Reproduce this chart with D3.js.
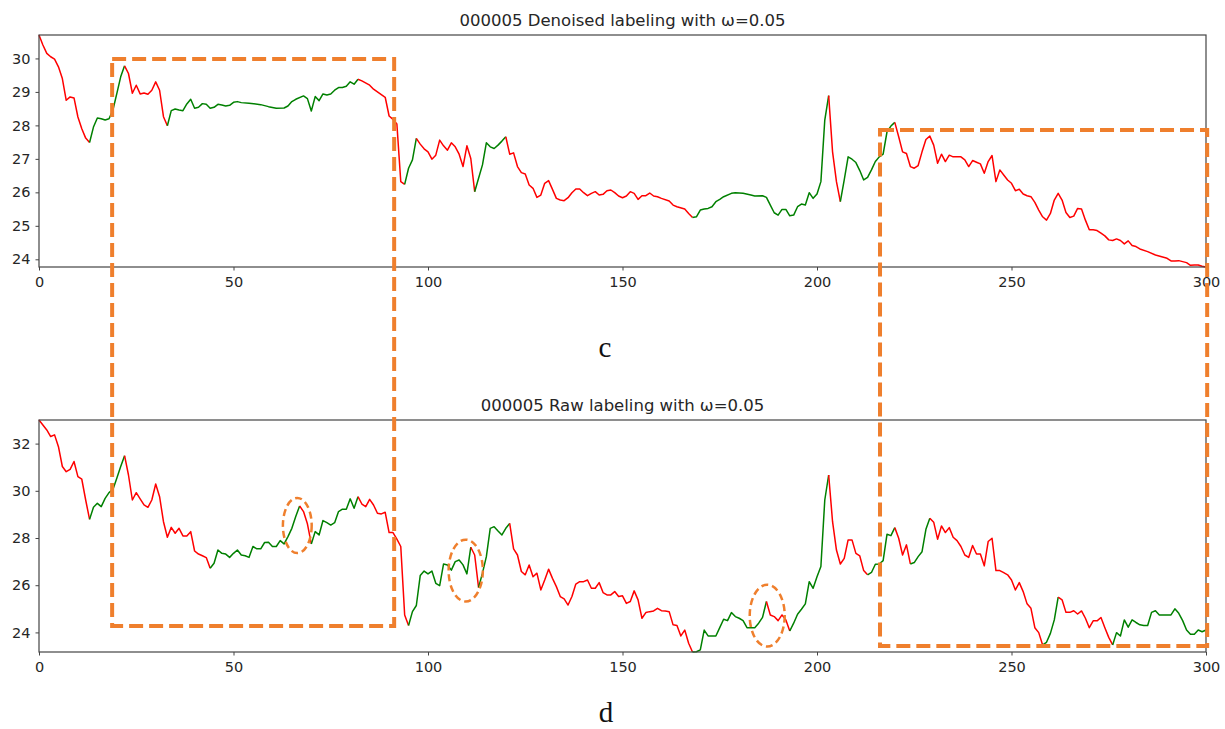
<!DOCTYPE html>
<html>
<head>
<meta charset="utf-8">
<script src="https://cdn.jsdelivr.net/npm/d3@7"></script>
<style>
  html, body { margin: 0; padding: 0; background: #fff; }
  svg { display: block; }
  .tick text { font-family: "DejaVu Sans", sans-serif; font-size: 14.5px; fill: #262626; }
  .tick line { stroke: #444; }
  .title { font-family: "DejaVu Sans", sans-serif; font-size: 16.5px; fill: #262626; }
  .panel-label { font-family: "Liberation Serif", "Times New Roman", serif; font-size: 29px; fill: #111; }
</style>
</head>
<body>
<svg id="chart" width="1225" height="729"></svg>
<script>
// ── Data ──────────────────────────────────────────────────────────────────
const xTicks = [0, 50, 100, 150, 200, 250, 300];
const denoisedTicks = [24, 25, 26, 27, 28, 29, 30];
const rawTicks = [24, 26, 28, 30, 32];

// [day, price]
const denoised = [
  [0,30.70],[1,30.40],[2,30.15],[3,30.05],[4,29.98],[5,29.75],[6,29.40],[7,28.75],[8,28.85],[9,28.82],
  [10,28.25],[11,27.90],[12,27.62],[13,27.49],[14,27.95],[15,28.22],[16,28.20],[17,28.16],[18,28.20],[19,28.46],
  [20,28.95],[21,29.45],[22,29.78],[23,29.55],[24,28.96],[25,29.20],[26,28.94],[27,28.97],[28,28.93],[29,29.05],
  [30,29.30],[31,29.05],[32,28.26],[33,27.99],[34,28.44],[35,28.49],[36,28.46],[37,28.44],[38,28.64],[39,28.78],
  [40,28.51],[41,28.54],[42,28.65],[43,28.63],[44,28.51],[45,28.54],[46,28.63],[47,28.61],[48,28.58],[49,28.60],
  [50,28.69],[51,28.71],[52,28.68],[54,28.66],[57,28.62],[59,28.56],[61,28.51],[63,28.52],[64,28.58],[65,28.71],
  [66,28.78],[68,28.88],[69,28.80],[70,28.43],[71,28.86],[72,28.74],[73,28.94],[74,28.91],[75,28.94],[76,29.05],
  [77,29.13],[78,29.13],[79,29.17],[80,29.30],[81,29.23],[82,29.38],[83,29.33],[85,29.20],[86,29.08],[89,28.84],
  [90,28.28],[91,28.18],[92,28.04],[93,26.32],[94,26.24],[95,26.72],[96,26.97],[97,27.61],[98,27.44],[99,27.30],
  [100,27.21],[101,26.99],[102,27.11],[103,27.56],[104,27.39],[105,27.26],[106,27.48],[107,27.36],[108,27.14],[109,26.77],
  [110,27.39],[111,27.01],[112,26.02],[113,26.42],[114,26.82],[115,27.48],[116,27.36],[117,27.31],[118,27.41],[119,27.53],
  [120,27.66],[121,27.14],[122,27.18],[123,26.77],[124,26.59],[125,26.55],[126,26.22],[127,26.12],[128,25.85],[129,25.92],
  [130,26.27],[131,26.35],[132,26.09],[133,25.82],[134,25.77],[135,25.75],[136,25.84],[137,25.99],[138,26.10],[139,26.10],
  [140,25.99],[141,25.90],[142,25.97],[143,26.02],[144,25.92],[145,25.94],[146,26.05],[147,26.07],[148,25.99],[149,25.89],
  [150,25.84],[151,25.89],[152,26.02],[153,25.97],[154,25.79],[155,25.90],[156,25.90],[157,25.98],[158,25.89],[159,25.87],
  [160,25.82],[162,25.74],[163,25.62],[164,25.57],[166,25.50],[167,25.37],[168,25.25],[169,25.27],[170,25.47],[171,25.50],
  [172,25.52],[173,25.57],[174,25.72],[175,25.79],[176,25.87],[178,25.97],[179,25.99],[181,25.97],[183,25.92],[184,25.89],
  [186,25.90],[187,25.85],[188,25.62],[189,25.39],[190,25.32],[191,25.49],[192,25.49],[193,25.30],[194,25.32],[195,25.57],
  [196,25.65],[197,25.62],[198,25.99],[199,25.82],[200,25.95],[201,26.32],[202,28.16],[203,28.89],[204,27.21],[205,26.32],
  [206,25.72],[207,26.37],[208,27.06],[209,26.99],[210,26.89],[211,26.65],[212,26.37],[213,26.45],[214,26.67],[215,26.92],
  [216,27.06],[217,27.14],[218,27.81],[219,27.98],[220,28.09],[221,27.66],[222,27.21],[223,27.16],[224,26.77],[225,26.72],
  [226,26.80],[227,27.21],[228,27.58],[229,27.68],[230,27.41],[231,26.87],[232,27.14],[233,26.92],[234,27.11],[235,27.06],
  [236,27.06],[237,27.06],[238,26.97],[239,26.77],[240,26.95],[241,26.90],[242,26.85],[243,26.57],[244,26.92],[245,27.10],
  [246,26.32],[247,26.67],[248,26.52],[249,26.37],[250,26.27],[251,26.05],[252,26.09],[253,25.95],[254,25.90],[255,25.87],
  [256,25.70],[257,25.47],[258,25.27],[259,25.17],[260,25.37],[261,25.77],[262,25.97],[263,25.77],[264,25.40],[265,25.25],
  [266,25.29],[267,25.52],[268,25.50],[269,25.17],[270,24.88],[271,24.88],[272,24.86],[273,24.78],[274,24.70],[275,24.58],
  [276,24.56],[277,24.61],[278,24.56],[279,24.46],[280,24.55],[281,24.41],[282,24.38],[283,24.31],[285,24.23],[287,24.13],
  [290,24.03],[291,23.95],[292,23.95],[293,23.96],[295,23.90],[296,23.82],[297,23.83],[298,23.83],[299,23.79],[300,23.77]
];

// [day, price]
const raw = [
  [0,33.00],[1,32.79],[2,32.58],[3,32.30],[4,32.37],[5,31.87],[6,31.03],[7,30.81],[8,30.91],[9,31.24],
  [10,30.60],[11,30.49],[12,29.61],[13,28.79],[14,29.30],[15,29.47],[16,29.33],[17,29.68],[18,29.92],[19,30.06],
  [20,30.53],[21,31.03],[22,31.49],[23,30.67],[24,29.61],[25,29.92],[26,29.66],[27,29.40],[28,29.30],[29,29.61],
  [30,30.29],[31,29.75],[32,28.69],[33,28.03],[34,28.45],[35,28.20],[36,28.41],[37,28.09],[38,28.09],[39,28.27],
  [40,27.45],[41,27.32],[42,27.25],[43,27.17],[44,26.72],[45,26.93],[46,27.49],[47,27.35],[48,27.32],[49,27.18],
  [50,27.35],[51,27.49],[52,27.28],[53,27.25],[54,27.18],[55,27.64],[56,27.54],[57,27.54],[58,27.81],[59,27.82],
  [60,27.64],[61,27.64],[62,27.89],[63,27.75],[64,28.06],[65,28.41],[66,28.91],[67,29.36],[68,29.12],[69,28.60],
  [70,27.75],[71,28.27],[72,28.13],[73,28.74],[74,28.65],[75,28.55],[76,28.65],[77,29.12],[78,29.22],[79,29.22],
  [80,29.66],[81,29.26],[82,29.75],[83,29.44],[84,29.33],[85,29.64],[86,29.40],[87,29.05],[88,29.02],[89,29.09],
  [90,28.23],[91,28.23],[92,27.95],[93,27.64],[94,24.74],[95,24.29],[96,24.88],[97,25.14],[98,26.41],[99,26.60],
  [100,26.48],[101,26.60],[102,26.08],[103,25.98],[104,26.90],[105,26.86],[106,26.64],[107,27.00],[108,27.07],[109,26.86],
  [110,26.48],[111,27.61],[112,27.28],[113,25.90],[114,26.51],[115,27.21],[116,28.41],[117,28.48],[118,28.30],[119,28.13],
  [120,28.41],[121,28.62],[122,27.54],[123,27.28],[124,26.58],[125,26.44],[126,26.86],[127,26.36],[128,26.51],[129,25.80],
  [130,26.22],[131,26.68],[132,26.29],[133,25.94],[134,25.52],[135,25.42],[136,25.16],[137,25.52],[138,26.05],[139,26.15],
  [140,26.15],[141,26.22],[142,25.87],[143,25.87],[144,26.11],[145,25.69],[146,25.59],[147,25.59],[148,25.73],[149,25.52],
  [150,25.55],[151,25.23],[152,25.31],[153,25.76],[154,25.38],[155,24.60],[156,24.84],[157,24.88],[158,24.91],[159,25.02],
  [160,24.92],[161,24.91],[162,24.88],[163,24.32],[164,24.29],[165,23.85],[166,24.10],[167,23.54],[168,23.17],[169,23.18],
  [170,23.26],[171,24.10],[172,23.85],[173,23.85],[174,23.85],[175,24.20],[176,24.56],[177,24.50],[178,24.84],[179,24.67],
  [180,24.60],[181,24.50],[182,24.20],[183,24.20],[184,24.20],[185,24.39],[186,24.64],[187,25.31],[188,24.74],[189,24.67],
  [190,24.50],[191,24.74],[192,24.53],[193,24.06],[194,24.39],[195,24.77],[196,24.98],[197,25.21],[198,26.15],[199,25.87],
  [200,26.36],[201,26.79],[202,29.61],[203,30.67],[204,28.69],[205,27.49],[206,26.90],[207,27.14],[208,27.92],[209,27.92],
  [210,27.35],[211,27.24],[212,26.62],[213,26.44],[214,26.54],[215,26.89],[216,26.90],[217,27.04],[218,28.16],[219,28.10],
  [220,28.44],[221,27.99],[222,27.28],[223,27.71],[224,26.90],[225,26.96],[226,27.21],[227,27.42],[228,28.37],[229,28.84],
  [230,28.67],[231,27.95],[232,28.51],[233,28.23],[234,28.44],[235,28.03],[236,27.89],[237,27.64],[238,27.28],[239,27.18],
  [240,27.68],[241,27.32],[242,27.32],[243,26.82],[244,27.85],[245,27.99],[246,26.62],[247,26.62],[248,26.53],[249,26.44],
  [250,26.22],[251,25.80],[252,26.11],[253,25.73],[254,25.21],[255,25.02],[256,24.20],[257,23.99],[258,23.47],[259,23.58],
  [260,23.96],[261,24.53],[262,25.49],[263,25.38],[264,24.85],[265,24.85],[266,24.92],[267,24.78],[268,24.91],[269,24.60],
  [270,24.20],[271,24.49],[272,24.49],[273,24.63],[274,24.20],[275,23.79],[276,23.47],[277,23.99],[278,23.85],[279,24.53],
  [280,24.22],[281,24.53],[282,24.42],[283,24.32],[284,24.29],[285,24.29],[286,24.85],[287,24.92],[288,24.74],[289,24.74],
  [290,24.74],[291,24.74],[292,25.00],[293,24.81],[294,24.50],[295,24.10],[296,23.92],[297,23.92],[298,24.10],[299,24.03],
  [300,24.10]
];

// day ranges labelled as up-trend (green); everything else is red
const denoisedUp = [[13,22],[33,82],[94,97],[112,120],[168,203],[206,220]];
const rawUp = [[13,22],[44,67],[70,82],[95,111],[113,121],[168,187],[193,203],[213,220],[224,229],[258,262],[276,300]];

// highlight boxes span both panels: x in days, top in denoised price, bottom in raw price
const boxes = [
  { x0: 18.8, x1: 91.3, top: 29.98, bottom: 24.27 },
  { x0: 216.2, x1: 300.3, top: 27.86, bottom: 23.42 }
];
// dashed ellipses on the raw panel: centre (day, price), radii (days, price)
const rings = [
  { x: 66.4, y: 28.53, rx: 3.7, ry: 1.17 },
  { x: 109.7, y: 26.62, rx: 4.4, ry: 1.31 },
  { x: 187.2, y: 24.71, rx: 4.5, ry: 1.31 }
];

// ── Layout ────────────────────────────────────────────────────────────────
const LEFT = 39, RIGHT = 1206;
const UP_COLOR = '#008000', DOWN_COLOR = '#ff0000', MARK = '#ef7f2d';

const svg = d3.select('#chart');
const x = d3.scaleLinear().domain([0, 300]).range([LEFT, RIGHT]);

function drawPanel(data, upRanges, ticks, top, bottom, title) {
  const y = d3.scaleLinear().domain(d3.extent(data, d => d[1])).range([bottom, top]);
  const g = svg.append('g');

  // coloured runs: a step is green if both ends sit inside an up range
  const isUp = (a, b) => upRanges.some(r => a[0] >= r[0] && b[0] <= r[1]);
  const runs = [];
  for (let i = 0; i < data.length - 1; i++) {
    const up = isUp(data[i], data[i + 1]);
    const last = runs[runs.length - 1];
    if (last && last.up === up) last.pts.push(data[i + 1]);
    else runs.push({ up, pts: [data[i], data[i + 1]] });
  }

  const line = d3.line().x(d => x(d[0])).y(d => y(d[1]));
  g.selectAll('.run')
    .data(runs)
    .join('path')
    .attr('fill', 'none')
    .attr('stroke', d => d.up ? UP_COLOR : DOWN_COLOR)
    .attr('stroke-width', 1.5)
    .attr('stroke-linejoin', 'round')
    .attr('d', d => line(d.pts));

  // frame
  g.append('rect')
    .attr('x', LEFT).attr('y', top)
    .attr('width', RIGHT - LEFT).attr('height', bottom - top)
    .attr('fill', 'none').attr('stroke', '#444').attr('stroke-width', 1.2);

  const xAxis = g.append('g')
    .attr('transform', `translate(0,${bottom})`)
    .call(d3.axisBottom(x).tickValues(xTicks).tickFormat(d3.format('d')).tickSize(3.5).tickPadding(6));
  const yAxis = g.append('g')
    .attr('transform', `translate(${LEFT},0)`)
    .call(d3.axisLeft(y).tickValues(ticks).tickFormat(d3.format('d')).tickSize(3.5).tickPadding(5));
  [xAxis, yAxis].forEach(a => a.select('.domain').remove());

  g.append('text')
    .attr('class', 'title')
    .attr('x', (LEFT + RIGHT) / 2)
    .attr('y', top - 9)
    .attr('text-anchor', 'middle')
    .text(title);

  return y;
}

const yTop = drawPanel(denoised, denoisedUp, denoisedTicks, 35, 267, '000005 Denoised labeling with ω=0.05');
const yBot = drawPanel(raw, rawUp, rawTicks, 420, 652, '000005 Raw labeling with ω=0.05');

// ── Panel letters ─────────────────────────────────────────────────────────
svg.append('text').attr('class', 'panel-label')
  .attr('x', 605).attr('y', 357).attr('text-anchor', 'middle').text('c');
svg.append('text').attr('class', 'panel-label')
  .attr('x', 606).attr('y', 722).attr('text-anchor', 'middle').text('d');

// ── Orange annotations ────────────────────────────────────────────────────
svg.selectAll('.box')
  .data(boxes)
  .join('rect')
  .attr('x', d => x(d.x0))
  .attr('y', d => yTop(d.top))
  .attr('width', d => x(d.x1) - x(d.x0))
  .attr('height', d => yBot(d.bottom) - yTop(d.top))
  .attr('fill', 'none')
  .attr('stroke', MARK)
  .attr('stroke-width', 4)
  .attr('stroke-dasharray', '14 6');

svg.selectAll('.ring')
  .data(rings)
  .join('ellipse')
  .attr('cx', d => x(d.x))
  .attr('cy', d => yBot(d.y))
  .attr('rx', d => x(d.rx) - x(0))
  .attr('ry', d => yBot(0) - yBot(d.ry))
  .attr('fill', 'none')
  .attr('stroke', MARK)
  .attr('stroke-width', 2.5)
  .attr('stroke-dasharray', '7 4');
</script>
</body>
</html>
